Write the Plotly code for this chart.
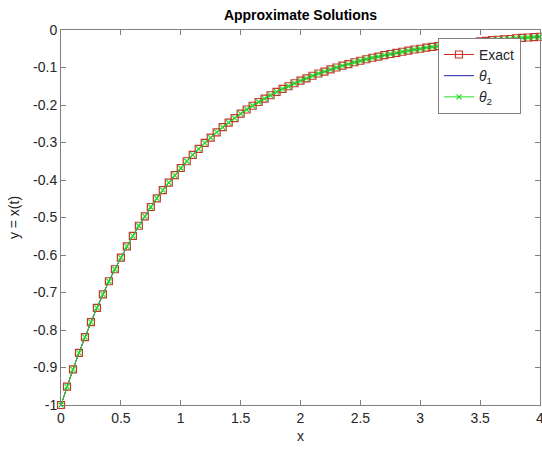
import plotly.graph_objects as go

x_vals = [round(i * 0.05, 2) for i in range(81)]

exact = [-1.000, -0.951, -0.905, -0.861, -0.819, -0.779, -0.741, -0.705, -0.670, -0.638,
         -0.607, -0.577, -0.549, -0.522, -0.497, -0.472, -0.449, -0.427, -0.407, -0.387,
         -0.368, -0.350, -0.333, -0.317, -0.301, -0.287, -0.273, -0.259, -0.247, -0.235,
         -0.223, -0.212, -0.202, -0.192, -0.183, -0.174, -0.165, -0.157, -0.150, -0.142,
         -0.135, -0.129, -0.122, -0.116, -0.111, -0.105, -0.100, -0.095, -0.091, -0.086,
         -0.082, -0.078, -0.074, -0.071, -0.067, -0.064, -0.061, -0.058, -0.055, -0.052,
         -0.050, -0.047, -0.045, -0.043, -0.041, -0.039, -0.037, -0.035, -0.033, -0.032,
         -0.030, -0.029, -0.027, -0.026, -0.025, -0.024, -0.022, -0.021, -0.020, -0.019,
         -0.018]
theta1 = list(exact)
theta2 = list(exact)

xticks = [0, 0.5, 1, 1.5, 2, 2.5, 3, 3.5, 4]
xtick_text = ["0", "0.5", "1", "1.5", "2", "2.5", "3", "3.5", "4"]
yticks = [-1, -0.9, -0.8, -0.7, -0.6, -0.5, -0.4, -0.3, -0.2, -0.1, 0]
ytick_text = ["-1", "-0.9", "-0.8", "-0.7", "-0.6", "-0.5", "-0.4", "-0.3", "-0.2", "-0.1", "0"]

FONT = "Liberation Sans, Arial"

fig = go.Figure()
fig.add_trace(go.Scatter(x=x_vals, y=exact, mode="lines+markers", name="Exact",
                         line=dict(color="#d62020", width=1),
                         marker=dict(symbol="square-open", size=7, color="#c0392b",
                                     line=dict(width=1.2)),
                         cliponaxis=False))
fig.add_trace(go.Scatter(x=x_vals, y=theta1, mode="lines", name="<i>θ</i><sub>1</sub>",
                         line=dict(color="#2020b0", width=1)))
fig.add_trace(go.Scatter(x=x_vals, y=theta2, mode="lines+markers", name="<i>θ</i><sub>2</sub>",
                         line=dict(color="#22dd22", width=1),
                         marker=dict(symbol="x-thin-open", size=5, color="#22dd22",
                                     line=dict(width=1.2, color="#22dd22")),
                         cliponaxis=False))

axis_common = dict(showline=True, linecolor="#808080", linewidth=1, mirror="ticks",
                   ticks="inside", ticklen=5, tickcolor="#808080", showgrid=False,
                   zeroline=False, automargin=False, ticklabeloverflow="allow",
                   tickfont=dict(family=FONT, size=14, color="#262626"))

fig.update_layout(
    width=542, height=450,
    margin=dict(l=61, r=2, t=30, b=45),
    plot_bgcolor="white", paper_bgcolor="white",
    title=dict(text="<b>Approximate Solutions</b>", x=0.5, xref="paper", xanchor="center",
               y=0.967, yref="container", yanchor="middle",
               font=dict(family=FONT, size=14, color="black")),
    xaxis=dict(range=[0, 4], tickvals=xticks, ticktext=xtick_text,
               title=dict(text="x", standoff=6, font=dict(family=FONT, size=14, color="#262626")),
               **axis_common),
    yaxis=dict(range=[-1, 0], tickvals=yticks, ticktext=ytick_text,
               title=dict(text="y = x(t)", standoff=10, font=dict(family=FONT, size=14, color="#262626")),
               **axis_common),
    legend=dict(x=0.787, y=0.979, xanchor="left", yanchor="top", bgcolor="white",
                bordercolor="#808080", borderwidth=1,
                font=dict(family=FONT, size=14, color="#262626"),
                tracegroupgap=0, itemwidth=30),
    showlegend=True,
)

fig.write_html("out.html", config={"displayModeBar": False},
               post_script="document.body.style.margin='0';")
